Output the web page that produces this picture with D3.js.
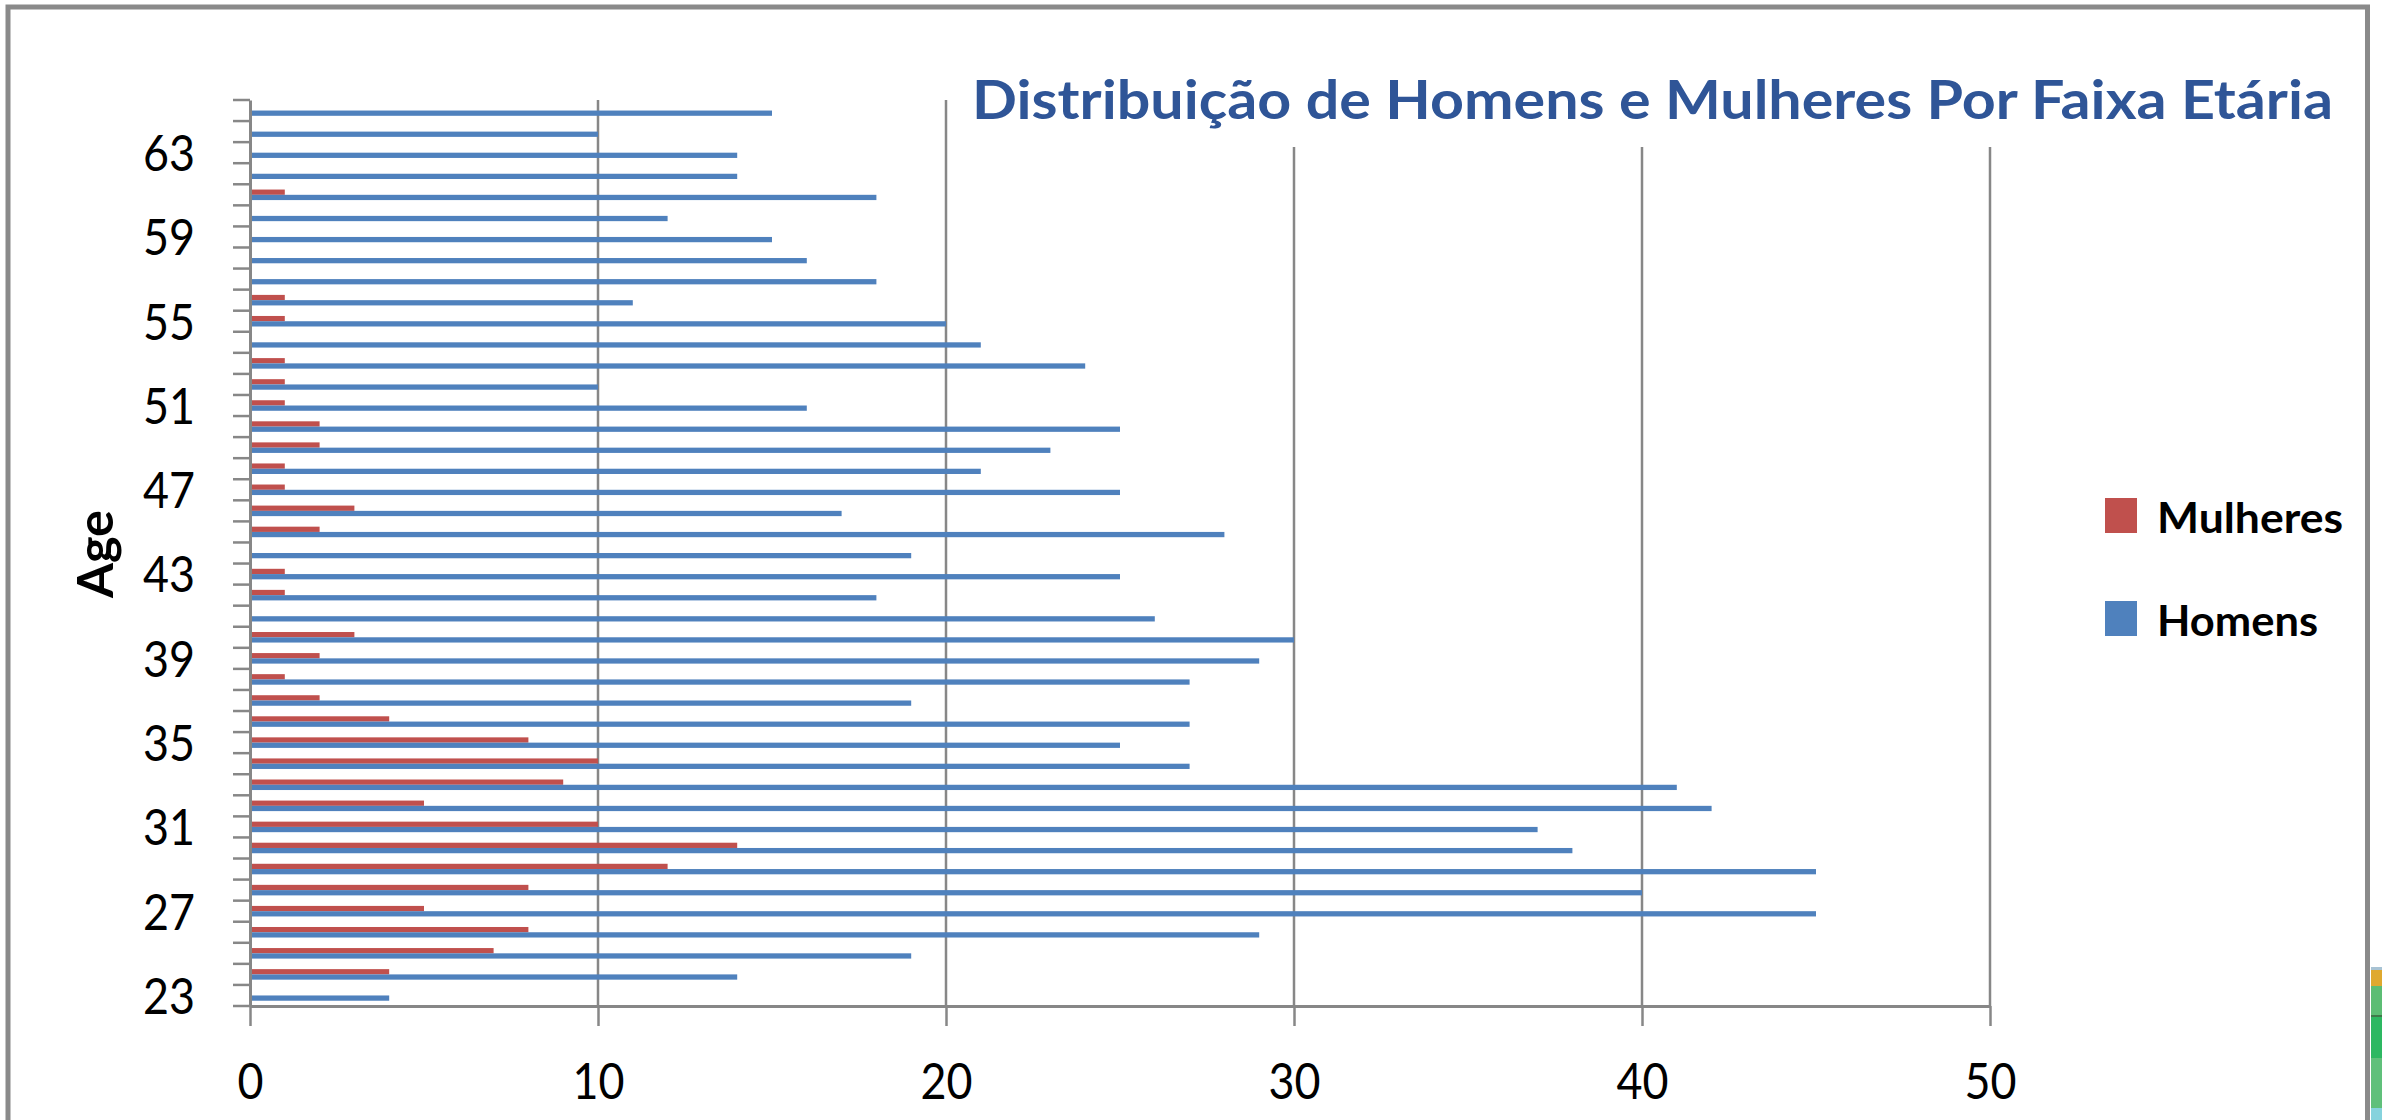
<!DOCTYPE html>
<html>
<head>
<meta charset="utf-8">
<script src="https://cdn.jsdelivr.net/npm/d3@7"></script>
<style>
  body { margin: 0; background: #fff; }
  svg { display: block; }
  text { font-family: Lato, "Open Sans", sans-serif; }
</style>
</head>
<body>
<svg id="chart" width="2382" height="1120"></svg>
<script>
// ages (categories), bottom to top
var ages = [23,24,25,26,27,28,29,30,31,32,33,34,35,36,37,38,39,40,41,42,43,44,
            45,46,47,48,49,50,51,52,53,54,55,56,57,58,59,60,61,62,63,64,65];
var homens = [4,14,19,29,45,40,45,38,37,42,41,27,25,27,19,27,29,30,26,18,25,19,
              28,17,25,21,23,25,16,10,24,21,20,11,18,16,15,12,18,14,14,10,15];
var mulheres = [0,4,7,8,5,8,12,14,10,5,9,10,8,4,2,1,2,3,0,1,1,0,
                2,3,1,1,2,2,1,1,1,0,1,1,0,0,0,0,1,0,0,0,0];
var ageTicks = [23,27,31,35,39,43,47,51,55,59,63];
var xTicks = [0,10,20,30,40,50];
var seriesNames = ["Mulheres", "Homens"];
var seriesColors = ["#c0504d", "#4f81bd"];
var titleText = "Distribuição de Homens e Mulheres Por Faixa Etária";

const gridColor = "#878787";
const svg = d3.select("#chart");

// plot box
const pLeft = 250, pRight = 1990, pTop = 100, pBottom = 1006;

var x = d3.scaleLinear().domain([0, 50]).range([pLeft, pRight]);

// one band per age, oldest on top
var y = d3.scaleBand()
    .domain(ages.slice().reverse())
    .range([pTop, pBottom])
    .padding(0);

// the two bars sit in the middle half of each band
var ySub = d3.scaleBand()
    .domain(seriesNames)
    .range([0, y.bandwidth()])
    .paddingInner(0)
    .paddingOuter(1);

var rows = ages.map(function(a, i) {
  return {age: a, values: [mulheres[i], homens[i]]};
});

svg.append("rect").attr("width", 2382).attr("height", 1120).attr("fill", "#fff");

// vertical gridlines
svg.append("g").selectAll("line")
  .data(xTicks.slice(1))
  .join("line")
    .attr("x1", d => x(d)).attr("x2", d => x(d))
    .attr("y1", pTop).attr("y2", pBottom)
    .attr("stroke", gridColor)
    .attr("stroke-width", 2.5);

// bars
var groups = svg.append("g").selectAll("g")
  .data(rows)
  .join("g")
    .attr("transform", d => "translate(0," + y(d.age) + ")");

groups.selectAll("rect")
  .data(d => d.values.map(function(v, k) { return {name: seriesNames[k], value: v, color: seriesColors[k]}; }))
  .join("rect")
    .attr("x", x(0))
    .attr("y", d => ySub(d.name))
    .attr("width", d => x(d.value) - x(0))
    .attr("height", ySub.bandwidth())
    .attr("fill", d => d.color);

// x axis with the little ticks under it
var xAxis = d3.axisBottom(x)
    .tickValues(xTicks)
    .tickSize(20)
    .tickSizeOuter(0)
    .tickPadding(37);

var gX = svg.append("g")
    .attr("transform", "translate(0," + pBottom + ")")
    .call(xAxis);
gX.select(".domain").attr("stroke", gridColor).attr("stroke-width", 3);
gX.selectAll(".tick line").attr("stroke", gridColor).attr("stroke-width", 2.5);
gX.selectAll(".tick text")
    .attr("fill", "#000")
    .style("font-size", "51px")
    .attr("textLength", d => String(d).length * 26)
    .attr("lengthAdjust", "spacingAndGlyphs");

// y axis, labels every 4 years
var yAxis = d3.axisLeft(y)
    .tickValues(ageTicks)
    .tickSize(0)
    .tickPadding(55);

var gY = svg.append("g")
    .attr("transform", "translate(" + pLeft + ",0)")
    .call(yAxis);
gY.select(".domain").attr("stroke", gridColor).attr("stroke-width", 3);
gY.selectAll(".tick text")
    .attr("fill", "#000")
    .attr("dy", "0.36em")
    .style("font-size", "51px")
    .attr("textLength", d => String(d).length * 26)
    .attr("lengthAdjust", "spacingAndGlyphs");

// category separators on the y axis
var edges = ages.map(a => y(a)).concat([y(ages[0]) + y.bandwidth()]);
svg.append("g").selectAll("line")
  .data(edges)
  .join("line")
    .attr("x1", pLeft - 17).attr("x2", pLeft)
    .attr("y1", d => d).attr("y2", d => d)
    .attr("stroke", gridColor)
    .attr("stroke-width", 2.5);

// axis title
svg.append("text")
    .attr("transform", "translate(113,554) rotate(-90)")
    .attr("text-anchor", "middle")
    .style("font-size", "49px")
    .style("font-weight", "bold")
    .attr("textLength", 88)
    .attr("lengthAdjust", "spacingAndGlyphs")
    .text("Age");

// chart title (sits on a white box that hides the gridlines)
svg.append("rect")
    .attr("x", 960).attr("y", 60)
    .attr("width", 1390).attr("height", 87)
    .attr("fill", "#fff");
svg.append("text")
    .attr("x", 972).attr("y", 119)
    .attr("fill", "#2f5597")
    .style("font-size", "54px")
    .style("font-weight", "bold")
    .attr("textLength", 1361)
    .attr("lengthAdjust", "spacingAndGlyphs")
    .text(titleText);

// legend
var legendY = [498, 601], legendW = [186, 161];
var legend = svg.append("g").selectAll("g")
  .data(seriesNames)
  .join("g")
    .attr("transform", (d, i) => "translate(2105," + legendY[i] + ")");
legend.append("rect")
    .attr("width", 32).attr("height", 35)
    .attr("fill", (d, i) => seriesColors[i]);
legend.append("text")
    .attr("x", 52).attr("y", 35)
    .style("font-size", "42px")
    .style("font-weight", "bold")
    .attr("textLength", (d, i) => legendW[i])
    .attr("lengthAdjust", "spacingAndGlyphs")
    .text(d => d);

// outer frame of the screenshot
svg.append("path")
    .attr("d", "M8,1130V7H2367.5V1130")
    .attr("fill", "none")
    .attr("stroke", "#8a8a8a")
    .attr("stroke-width", 5);

// bit of another window peeking in at the bottom right
var stripY = [967, 970, 986, 1015, 1017, 1058, 1108];
var stripH = [3, 16, 29, 2, 41, 50, 12];
var stripC = ["#a8c3d4", "#dfa92f", "#5cbd74", "#3f7a4a", "#2db862", "#60c07b", "#86d3dd"];
svg.append("g").selectAll("rect")
  .data(stripY)
  .join("rect")
    .attr("x", 2371).attr("width", 11)
    .attr("y", d => d)
    .attr("height", (d, i) => stripH[i])
    .attr("fill", (d, i) => stripC[i]);
</script>
</body>
</html>
